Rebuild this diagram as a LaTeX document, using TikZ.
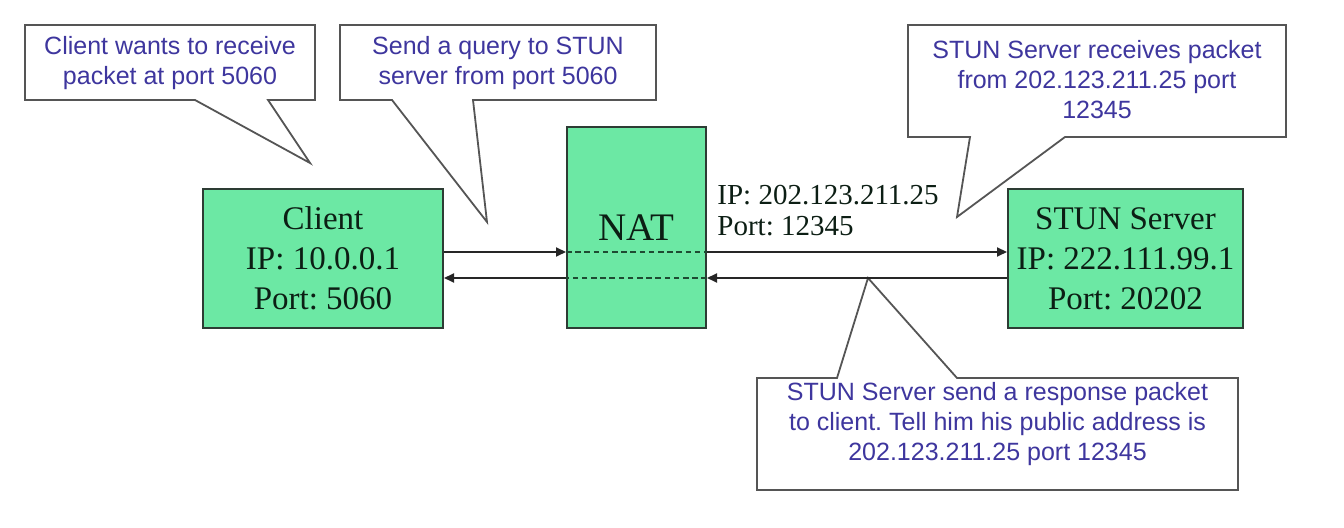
\documentclass[tikz,border=0pt]{standalone}
\usepackage{fontspec}
\setmainfont{Liberation Serif}
\newfontfamily\calloutfont{Liberation Sans}
\usetikzlibrary{arrows.meta}
\frenchspacing
\definecolor{boxgreen}{RGB}{108,232,164}
\definecolor{calltext}{RGB}{62,54,158}
\definecolor{boxline}{RGB}{45,60,52}
\definecolor{callline}{RGB}{85,85,85}
\definecolor{dashcol}{RGB}{30,75,50}
\definecolor{boxtext}{RGB}{12,30,20}
\begin{document}
\begin{tikzpicture}[x=0.5pt,y=-0.5pt,
 greenbox/.style={draw=boxline, fill=boxgreen, line width=1pt, inner sep=0pt, align=center, font=\fontsize{16.5}{20}\selectfont, text=boxtext},
 callout/.style={draw=callline, fill=white, line width=0.9pt, line join=miter},
 calltxt/.style={text=calltext, align=center, inner sep=0pt, font=\calloutfont\fontsize{12.5}{15}\selectfont},
 arr/.style={draw=black!85, line width=1pt, -{Triangle[length=5pt,width=4.5pt]}},
 natdash/.style={draw=dashcol, line width=1.2pt, dash pattern=on 2.8pt off 1.8pt}]
\useasboundingbox (0,0) rectangle (1344,528);

% callouts
\draw[callout] (25,25) -- (315,25) -- (315,100) -- (268,100) -- (310,163) -- (195,100) -- (25,100) -- cycle;
\node[calltxt] (c1) at (170,63) {Client wants to receive\\packet at port 5060};

\draw[callout] (340,25) -- (656,25) -- (656,100) -- (473,100) -- (487,222) -- (392,100) -- (340,100) -- cycle;
\node[calltxt] (c2) at (498,63) {Send a query to STUN\\server from port 5060};

\draw[callout] (908,25) -- (1286,25) -- (1286,137) -- (1065,137) -- (957,217) -- (970,137) -- (908,137) -- cycle;
\node[calltxt] (c3) at (1097,80) {STUN Server receives packet\\from 202.123.211.25 port\\12345};

\draw[callout] (757,378) -- (837,378) -- (868,278) -- (957,378) -- (1238,378) -- (1238,490) -- (757,490) -- cycle;
\node[calltxt] (c4) at (997.5,424) {STUN Server send a response packet\\to client. Tell him his public address is\\202.123.211.25 port 12345};

% boxes
\node[greenbox, minimum width=120pt, minimum height=69.5pt] (client) at (323,258.5) {Client\\IP: 10.0.0.1\\Port: 5060};
\node[greenbox, minimum width=69.5pt, minimum height=100.5pt, font=\fontsize{19.5}{23}\selectfont] (nat) at (636.5,227.5) {NAT};
\node[greenbox, minimum width=117.5pt, minimum height=69.5pt] (stun) at (1125.5,258.5) {STUN Server\\IP: 222.111.99.1\\Port: 20202};

\node[anchor=west, align=left, inner sep=0pt, text=boxtext, font=\fontsize{14.5}{15.5}\selectfont] (natip) at (717,211) {IP: 202.123.211.25\\Port: 12345};

% connectors
\coordinate (up) at (0,252);
\coordinate (dn) at (0,278);
\draw[arr] (client.east |- up) -- (nat.west |- up);
\draw[natdash] (nat.west |- up) -- (nat.east |- up);
\draw[arr] (nat.east |- up) -- (stun.west |- up);
\draw[arr] (stun.west |- dn) -- (nat.east |- dn);
\draw[natdash] (nat.east |- dn) -- (nat.west |- dn);
\draw[arr] (nat.west |- dn) -- (client.east |- dn);
\end{tikzpicture}
\end{document}
